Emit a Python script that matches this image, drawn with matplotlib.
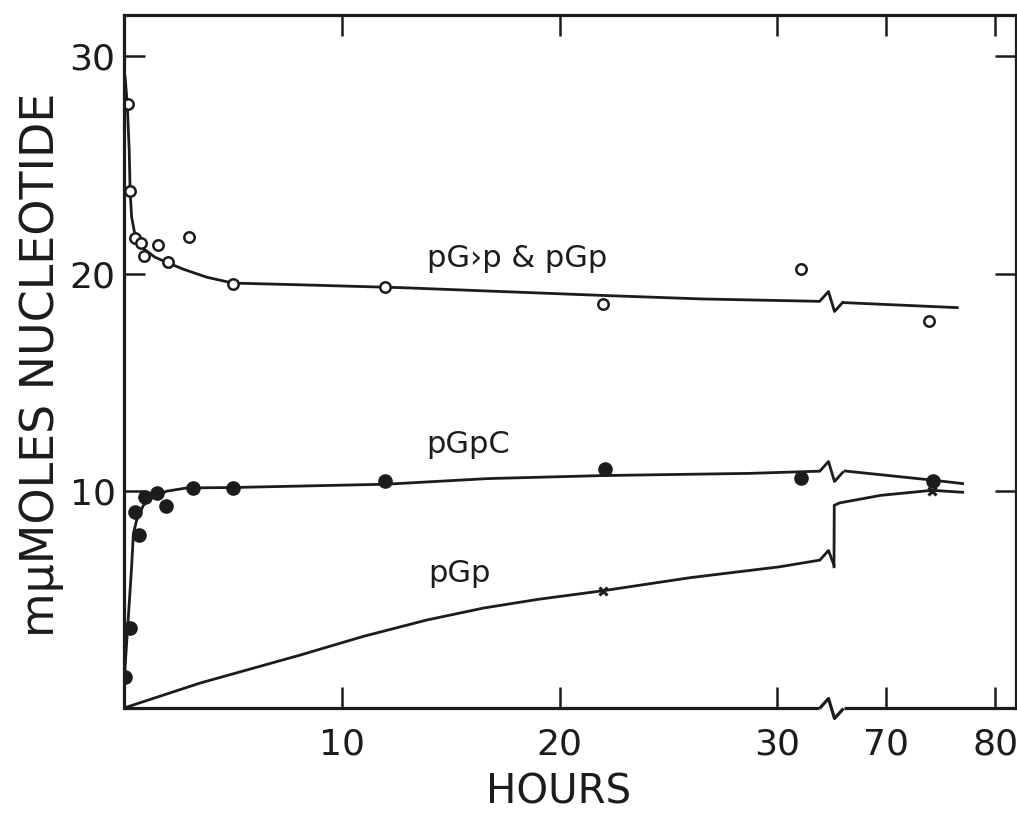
import numpy as np
import matplotlib
matplotlib.use('Agg')
import matplotlib.pyplot as plt
from matplotlib.path import Path

# time axis is broken: 32-66 h squeezed into one unit, 70-80 h drawn at half scale
GAP_LO, GAP_HI = 32.0, 66.0
BREAK_AT = 47.3   # hours, middle of the squeezed gap

# pG>p & pGp (open circles)
cyc_hours = [0.18, 0.28, 0.5, 0.8, 0.93, 1.55, 2.0, 3.0, 5.0, 12.0, 22.0, 31.1, 73.9]
cyc_vals = [27.8, 23.8, 21.65, 21.4, 20.8, 21.3, 20.55, 21.7, 19.5, 19.4, 18.6, 20.2, 17.8]
cyc_curve_h = [0.05, 0.15, 0.24, 0.28, 0.35, 0.5, 0.89, 1.42, 2.0, 2.72, 3.8, 5.0, 8.1, 12.7, 22.0, 26.5, 31.9]
cyc_curve_v = [29.05, 27.8, 25.65, 23.8, 22.6, 21.8, 21.15, 20.75, 20.5, 20.2, 19.83, 19.56, 19.48, 19.35, 18.99, 18.83, 18.72]
cyc_late_h = [66.1, 76.5]
cyc_late_v = [18.66, 18.43]

# pGpC (filled circles)
gpc_hours = [0.05, 0.28, 0.5, 0.7, 0.97, 1.53, 1.93, 3.15, 5.0, 12.0, 22.1, 31.1, 74.3]
gpc_vals = [1.45, 3.7, 9.0, 7.95, 9.7, 9.9, 9.3, 10.15, 10.15, 10.45, 11.0, 10.6, 10.45]
gpc_curve_h = [0.0, 0.05, 0.2, 0.35, 0.43, 0.58, 0.89, 1.35, 1.96, 2.88, 5.0, 12.0, 16.7, 22.0, 28.7, 31.9]
gpc_curve_v = [0.1, 1.9, 4.2, 6.5, 8.03, 8.64, 9.33, 9.72, 9.98, 10.13, 10.15, 10.3, 10.56, 10.7, 10.8, 10.9]
gpc_late_h = [66.2, 74.4, 77.0]
gpc_late_v = [10.91, 10.48, 10.33]

# pGp (crosses)
gp_hours = [22.0, 74.2]
gp_vals = [5.4, 10.0]
gp_curve_h = [0.0, 3.5, 8.1, 11.0, 13.9, 16.5, 19.0, 22.0, 26.0, 30.1, 31.9]
gp_curve_v = [0.0, 1.15, 2.44, 3.3, 4.05, 4.6, 5.0, 5.4, 6.0, 6.5, 6.8]
gp_late_h = [52.2, 52.6, 61.0, 69.5, 74.2, 77.0]
gp_late_v = [6.5, 9.33, 9.44, 9.79, 10.02, 9.93]

xticks = [10, 20, 30, 70, 80]
yticks = [10, 20, 30]

INK = '#1c1c1c'


def fwd(x):
    x = np.asarray(x, dtype=float)
    return np.where(x <= GAP_LO, x,
                    np.where(x < GAP_HI, GAP_LO + (x - GAP_LO) / (GAP_HI - GAP_LO),
                             35.0 + (x - 70.0) / 2.0))


def inv(d):
    d = np.asarray(d, dtype=float)
    return np.where(d <= GAP_LO, d,
                    np.where(d < 33.0, GAP_LO + (d - GAP_LO) * (GAP_HI - GAP_LO),
                             70.0 + (d - 35.0) * 2.0))


def main():
    fig = plt.figure(figsize=(10.17, 8.19), dpi=100)
    ax = fig.add_axes([124 / 1017, 1 - 708 / 819, (1016 - 124) / 1017, (708 - 15) / 819])
    ax.set_xscale('function', functions=(fwd, inv))
    ax.set_xlim(0, 81.9)
    ax.set_ylim(0, 31.9)

    lw = 2.0
    ax.plot(cyc_curve_h, cyc_curve_v, color=INK, lw=lw)
    ax.plot(cyc_late_h, cyc_late_v, color=INK, lw=lw)
    ax.plot(gpc_curve_h, gpc_curve_v, color=INK, lw=lw)
    ax.plot(gpc_late_h, gpc_late_v, color=INK, lw=lw)
    ax.plot(gp_curve_h, gp_curve_v, color=INK, lw=lw)
    ax.plot(gp_late_h, gp_late_v, color=INK, lw=lw)

    ax.plot(cyc_hours, cyc_vals, 'o', ms=7.5, mfc='white', mec=INK, mew=1.8, ls='none')
    ax.plot(gpc_hours, gpc_vals, 'o', ms=9.5, mfc=INK, mec=INK, ls='none')
    ax.plot(gp_hours, gp_vals, 'x', ms=6, mec=INK, mew=2.2, ls='none')

    # break symbols (zig-zag glyphs, sized in pixels)
    zig = Path([(-12, 0), (-3, 10), (3, -10), (12, 0)])
    zig_step = Path([(-12, 0), (-3, 10), (3, -6)])
    zsize = 24 * 72 / fig.dpi
    for yb in [cyc_curve_v[-1], gpc_curve_v[-1]]:
        ax.plot([BREAK_AT], [yb], marker=zig, ms=zsize, mfc='none', mec=INK, mew=lw)
    ax.plot([BREAK_AT], [gp_curve_v[-1]], marker=zig_step, ms=zsize, mfc='none', mec=INK, mew=lw)

    # bottom axis line drawn in two pieces around the break
    ax.spines['bottom'].set_visible(False)
    ax.plot([0, cyc_curve_h[-1]], [0, 0], color=INK, lw=2.3, clip_on=False, solid_capstyle='butt')
    ax.plot([cyc_late_h[0], 81.9], [0, 0], color=INK, lw=2.3, clip_on=False, solid_capstyle='butt')
    ax.plot([BREAK_AT], [0], marker=zig, ms=zsize, mfc='none', mec=INK, mew=2.3, clip_on=False)

    for side in ['left', 'top', 'right']:
        ax.spines[side].set_linewidth(2.3)
        ax.spines[side].set_color(INK)

    ax.set_xticks(xticks)
    ax.set_xticklabels([str(t) for t in xticks])
    ax.set_yticks(yticks)
    ax.set_yticklabels([str(t) for t in yticks])
    ax.xaxis.set_minor_locator(matplotlib.ticker.NullLocator())
    ax.tick_params(axis='both', direction='in', length=15, width=1.8, color=INK,
                   labelcolor=INK, labelsize=26, top=True, right=True)
    ax.tick_params(axis='x', pad=14)
    ax.tick_params(axis='y', pad=6)

    ax.text(13.92, 20.28, 'pG›p & pGp', fontsize=22, color=INK, ha='left', va='baseline')
    ax.text(13.87, 11.72, 'pGpC', fontsize=22, color=INK, ha='left', va='baseline')
    ax.text(13.96, 5.79, 'pGp', fontsize=22, color=INK, ha='left', va='baseline')

    ax.set_xlabel('HOURS', fontsize=29, color=INK)
    ax.xaxis.set_label_coords((558.5 - 124) / 892, (708 - 773) / 693)
    ax.set_ylabel('mμMOLES NUCLEOTIDE', fontsize=33, color=INK)
    ax.yaxis.set_label_coords((64 - 124) / 892, (708 - 365) / 693)

    fig.savefig('out.png', dpi=100, facecolor='white')


if __name__ == "__main__":
    main()
